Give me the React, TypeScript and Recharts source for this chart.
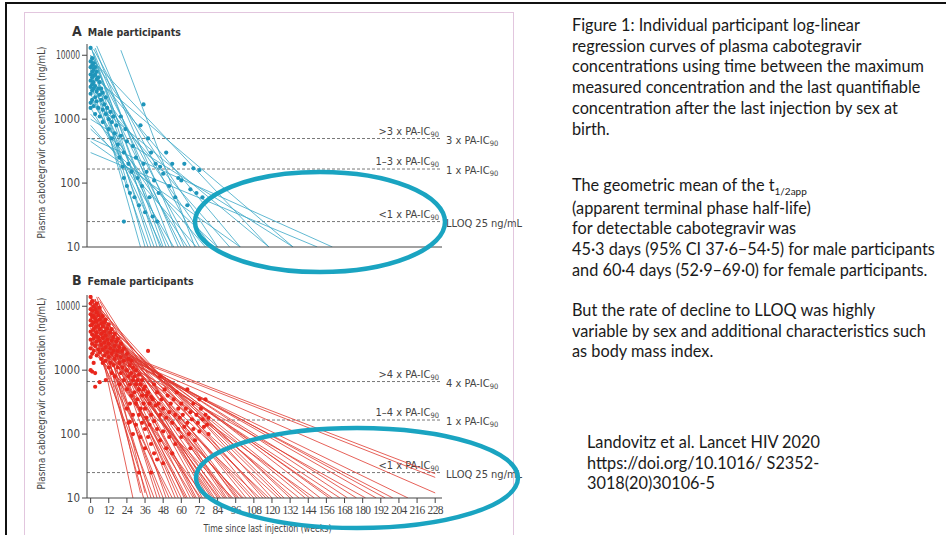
import React from "react";
import { ComposedChart, Line, Scatter, XAxis, YAxis, ReferenceLine } from "recharts";

const X_TICKS = [0, 12, 24, 36, 48, 60, 72, 84, 96, 108, 120, 132, 144, 156, 168, 180, 192, 204, 216, 228];
const Y_TICKS = [10, 100, 1000, 10000];

// regression lines: [start week, start conc, end week, end conc]
const MALE_LINES = [
  [0, 14000, 44, 10], [0, 10000, 36, 10], [0, 8000, 40, 10], [1, 12000, 48, 10],
  [0, 6000, 33, 10], [2, 9000, 50, 10], [0, 5000, 42, 10], [1, 7000, 46, 10],
  [3, 13000, 54, 10], [0, 3500, 38, 10], [0, 4000, 52, 10], [2, 11000, 58, 10],
  [0, 2500, 47, 10], [4, 14000, 62, 10], [0, 1500, 55, 10], [1, 6000, 60, 10],
  [0, 9000, 66, 10], [20, 12000, 69, 10], [0, 2000, 64, 10], [2, 12500, 72, 10],
  [0, 800, 70, 10], [0, 1200, 76, 10], [0, 4500, 80, 10], [0, 10000, 84, 10],
  [0, 700, 84, 10], [0, 3000, 92, 10], [0, 450, 99, 10], [0, 6000, 99, 10],
  [0, 2000, 118, 10], [0, 9000, 118, 10], [0, 1000, 134, 10], [0, 5000, 134, 10],
  [0, 500, 160, 10], [0, 300, 150, 10],
];

const MALE_DOTS = [
  [0, 13000], [0, 8000], [0, 6500], [0, 5000], [0, 4000], [0, 3200], [0, 2500], [0, 1800], [0, 1500],
  [1, 9000], [1, 7000], [1, 5500], [1, 4500], [1, 3500], [1, 2800], [1, 2000],
  [2, 7500], [2, 6000], [2, 4800], [2, 3800], [2, 3000], [2, 1600],
  [3, 6500], [3, 5000], [3, 3300], [3, 2200], [3, 1200], [4, 5500], [4, 4200], [4, 2700], [4, 1900],
  [5, 4500], [5, 3000], [5, 1500], [6, 3800], [6, 2400], [6, 1100], [7, 3000], [7, 2000],
  [8, 2600], [8, 1400], [8, 900], [9, 1700], [10, 2200], [10, 1200], [11, 1500], [12, 1000], [12, 700],
  [13, 1300], [14, 900], [14, 500], [15, 1100], [16, 600], [17, 800], [18, 400], [19, 250], [20, 550],
  [20, 1100], [21, 180], [22, 300], [22, 120], [22, 25], [23, 700], [24, 90], [24, 450], [25, 200],
  [26, 70], [27, 150], [28, 380], [29, 60], [30, 250], [31, 120], [32, 45], [33, 800], [34, 90],
  [35, 1700], [35, 200], [36, 35], [37, 150], [38, 500], [39, 60], [40, 300], [41, 30], [42, 110],
  [43, 200], [44, 25], [45, 70], [46, 180], [48, 140], [50, 300], [52, 90], [54, 200], [56, 60],
  [58, 120], [60, 110], [62, 200], [64, 45], [66, 80], [68, 170], [70, 70], [72, 160], [74, 60], [76, 50],
];

const FEMALE_LINES = [
  [0, 12000, 28, 10], [3, 13000, 33, 12], [5, 12000, 36, 12], [2, 8000, 35, 10], [0, 6000, 38, 10],
  [1, 10000, 40, 10], [3, 13000, 44, 10], [0, 4000, 42, 10], [2, 9000, 46, 10], [0, 7000, 48, 10],
  [4, 14000, 50, 10], [1, 5000, 52, 10], [0, 3000, 54, 10], [3, 11000, 56, 10], [5, 8000, 58, 10],
  [0, 9000, 60, 10], [0, 14000, 62, 10], [2, 6000, 64, 10], [1, 12000, 66, 10], [0, 4500, 68, 10],
  [4, 10000, 70, 10], [0, 8000, 72, 10], [2, 13000, 74, 10], [0, 2500, 76, 10], [6, 12000, 78, 10],
  [1, 7000, 80, 10], [0, 11000, 82, 10], [3, 5000, 84, 10], [0, 9500, 86, 10], [2, 3500, 88, 10],
  [5, 14000, 90, 10], [0, 6500, 92, 10], [1, 2000, 94, 10], [0, 12500, 96, 10], [4, 9000, 98, 10],
  [0, 4000, 100, 10], [0, 5500, 63, 10], [3, 9500, 69, 10], [0, 3000, 73, 10], [2, 11000, 77, 10],
  [0, 7500, 81, 10], [1, 4500, 85, 10], [0, 13500, 89, 10], [3, 6000, 93, 10], [0, 8500, 97, 10],
  [2, 2800, 101, 10], [0, 10000, 103, 10], [2, 6000, 106, 10], [0, 6000, 108, 10], [0, 14000, 110, 10],
  [1, 3000, 112, 10], [2, 11000, 114, 10], [0, 8000, 116, 10], [0, 4500, 118, 10], [3, 11000, 120, 10],
  [0, 5000, 124, 10], [1, 8000, 126, 10], [6, 7000, 128, 10], [0, 9000, 132, 10], [0, 7000, 134, 10],
  [2, 4000, 138, 10], [3, 5000, 142, 10], [0, 6000, 145, 10], [0, 3000, 148, 10], [10, 4000, 152, 10],
  [0, 5000, 158, 10], [2, 3800, 160, 10], [1, 3500, 165, 10], [0, 4500, 170, 10], [4, 3500, 176, 10],
  [0, 2500, 182, 10], [0, 3500, 189, 10], [3, 3000, 195, 10], [0, 2800, 200, 10], [0, 2600, 210, 10],
  [4, 2600, 228, 24], [6, 2400, 228, 21], [8, 2200, 228, 12],
];

const FEMALE_DOTS = [
  [0, 14000], [0, 11000], [0, 9000], [0, 7500], [0, 6000], [0, 5000], [0, 4000], [0, 3000], [0, 2200],
  [0, 1600], [0, 1000], [1, 12000], [1, 8500], [1, 6800], [1, 5200], [1, 3600], [1, 2600], [1, 1800],
  [1, 950], [2, 10000], [2, 7000], [2, 5600], [2, 4300], [2, 3100], [2, 2000], [2, 1300], [3, 9000],
  [3, 6400], [3, 4700], [3, 3400], [3, 2400], [3, 900], [3, 550], [4, 11000], [4, 8000], [4, 5800],
  [4, 3900], [4, 2800], [4, 1700], [5, 7200], [5, 5000], [5, 3300], [5, 2100], [6, 9500], [6, 6200],
  [6, 4400], [6, 2900], [6, 1900], [6, 650], [7, 5400], [7, 3700], [7, 2500], [7, 1500], [8, 7000],
  [8, 4800], [8, 3200], [8, 2100], [8, 1300], [9, 5600], [9, 4000], [9, 2700], [9, 1700], [10, 6200],
  [10, 3500], [10, 2300], [10, 1400], [10, 700], [11, 4500], [11, 3000], [11, 1900], [12, 5200],
  [12, 2600], [12, 1600], [12, 1100], [13, 3900], [13, 2200], [13, 1300], [14, 4400], [14, 2900],
  [14, 1800], [14, 900], [15, 3300], [15, 2000], [15, 1200], [16, 3700], [16, 2400], [16, 1500],
  [16, 800], [17, 2800], [17, 1700], [18, 3100], [18, 2000], [18, 1100], [19, 2300], [19, 1300],
  [19, 600], [20, 2600], [20, 1600], [20, 900], [21, 2000], [21, 1100], [22, 2200], [22, 1400],
  [22, 700], [24, 1800], [24, 1000], [24, 500], [24, 250], [25, 1500], [25, 800], [25, 150],
  [26, 1200], [26, 600], [26, 300], [26, 155], [27, 1400], [27, 900], [27, 400], [28, 1100], [28, 700],
  [28, 200], [28, 100], [29, 800], [29, 450], [30, 1000], [30, 600], [30, 300], [30, 140], [31, 700],
  [31, 350], [32, 850], [32, 500], [32, 200], [32, 25], [33, 600], [33, 250], [33, 90], [34, 700],
  [34, 400], [34, 150], [35, 500], [35, 300], [36, 550], [36, 250], [36, 120], [36, 60], [37, 400],
  [37, 180], [38, 2000], [38, 450], [38, 90], [39, 300], [39, 140], [40, 25], [40, 380], [40, 200],
  [40, 70], [41, 350], [42, 600], [42, 160], [42, 50], [43, 280], [44, 450], [44, 120], [44, 40],
  [45, 300], [46, 800], [46, 200], [46, 80], [47, 350], [48, 250], [48, 110], [48, 35], [49, 500],
  [50, 180], [50, 60], [51, 400], [52, 220], [52, 90], [53, 300], [54, 150], [54, 50], [55, 350],
  [56, 200], [56, 70], [57, 450], [58, 250], [58, 120], [59, 180], [60, 300], [60, 90], [61, 200],
  [62, 130], [63, 250], [64, 500], [64, 150], [65, 100], [66, 220], [66, 60], [67, 170], [68, 300],
  [68, 120], [69, 80], [70, 200], [71, 150], [72, 350], [72, 110], [73, 250], [74, 170], [75, 130],
  [76, 350], [76, 200], [77, 140], [78, 180], [78, 100],
];

const MALE_THRESHOLDS = [498, 166, 25];
const MALE_ABOVE = [">3 x PA-IC", "1–3 x PA-IC", "<1 x PA-IC"];
const MALE_RIGHT = ["3 x PA-IC", "1 x PA-IC", "LLOQ 25 ng/mL"];
const FEMALE_THRESHOLDS = [664, 166, 25];
const FEMALE_ABOVE = [">4 x PA-IC", "1–4 x PA-IC", "<1 x PA-IC"];
const FEMALE_RIGHT = ["4 x PA-IC", "1 x PA-IC", "LLOQ 25 ng/mL"];

const FIG_FONT = "'Liberation Sans Narrow', 'DejaVu Sans Condensed', 'Liberation Sans', sans-serif";
const TEXT_FONT = "Lato, 'Open Sans', sans-serif";

function Sub({ text }: { text: string }) {
  if (!text.endsWith("PA-IC")) return <>{text}</>;
  return (
    <>
      {text}
      <tspan fontSize={7.5} dy={2}>90</tspan>
    </>
  );
}

function RefLabel(props: any) {
  const { viewBox, above, right } = props;
  const x = viewBox.x;
  const y = viewBox.y;
  const w = viewBox.width;
  return (
    <g fontFamily={FIG_FONT} fill="#444" fontSize={11}>
      <text x={x + w - 3} y={y - 4} textAnchor="end">
        <Sub text={above} />
      </text>
      <text x={x + w + 4} y={y + 5}>
        <Sub text={right} />
      </text>
    </g>
  );
}

function YTick(props: any) {
  const { x, y, payload } = props;
  const v = payload.value;
  return (
    <text
      x={x - 1}
      y={y}
      textAnchor="end"
      dominantBaseline="central"
      fontSize={11.5}
      fill="#444"
      fontFamily={FIG_FONT}
      textLength={v === 10000 ? 24 : undefined}
      lengthAdjust="spacingAndGlyphs"
    >
      {String(v)}
    </text>
  );
}

function YLabel(props: any) {
  const { viewBox } = props;
  const cx = viewBox.x + 41;
  const cy = viewBox.y + viewBox.height / 2 - 3;
  return (
    <text
      x={cx}
      y={cy}
      transform={`rotate(-90 ${cx} ${cy})`}
      textAnchor="middle"
      dominantBaseline="central"
      fontSize={11}
      fill="#444"
      fontFamily={FIG_FONT}
      textLength={192}
      lengthAdjust="spacingAndGlyphs"
    >
      Plasma cabotegravir concentration (ng/mL)
    </text>
  );
}

function XLabel(props: any) {
  const { viewBox } = props;
  return (
    <text
      x={viewBox.x + viewBox.width / 2 + 3}
      y={viewBox.y + 34}
      textAnchor="middle"
      fontSize={11}
      fill="#444"
      fontFamily={FIG_FONT}
      textLength={128}
      lengthAdjust="spacingAndGlyphs"
    >
      Time since last injection (weeks)
    </text>
  );
}

function Panel(props: any) {
  const { top, height, xAxisHeight, lines, dots, lineColor, dotColor, thresholds, above, right, showTicks } = props;
  const dotData = dots.map(([x, y]: number[]) => ({ x, y }));
  return (
    <div style={{ position: "absolute", left: 0, top }}>
      <ComposedChart width={560} height={height} margin={{ top: 44, right: 118, bottom: 0, left: 0 }}>
        <XAxis
          type="number"
          dataKey="x"
          domain={[-2.4, 232.5]}
          ticks={X_TICKS}
          interval={0}
          allowDataOverflow
          height={xAxisHeight}
          stroke="#444"
          tickSize={5}
          tickMargin={3}
          tick={
            showTicks
              ? { fontSize: 11.5, fill: "#444", fontFamily: "'Liberation Serif', serif", letterSpacing: -0.7 }
              : false
          }
          label={showTicks ? <XLabel /> : undefined}
        />
        <YAxis
          type="number"
          dataKey="y"
          scale="log"
          domain={[10, 15000]}
          allowDataOverflow
          ticks={Y_TICKS}
          interval={0}
          width={87}
          stroke="#444"
          tickSize={5}
          tickMargin={1}
          tick={<YTick />}
          label={<YLabel />}
        />
        {thresholds.map((t: number, i: number) => (
          <ReferenceLine
            key={"r" + i}
            y={t}
            stroke="#555"
            strokeWidth={0.8}
            strokeDasharray="3 2"
            label={<RefLabel above={above[i]} right={right[i]} />}
          />
        ))}
        {lines.map((l: number[], i: number) => (
          <Line
            key={"l" + i}
            data={[{ x: l[0], y: l[1] }, { x: l[2], y: l[3] }]}
            dataKey="y"
            stroke={lineColor}
            strokeWidth={0.8}
            dot={false}
            activeDot={false}
            isAnimationActive={false}
          />
        ))}
        <Scatter
          data={dotData}
          dataKey="y"
          isAnimationActive={false}
          shape={(p: any) => <circle cx={p.cx} cy={p.cy} r={2.1} fill={dotColor} />}
        />
      </ComposedChart>
    </div>
  );
}

const lineStyle: React.CSSProperties = { whiteSpace: "nowrap" };
const para: React.CSSProperties = {
  position: "absolute",
  fontFamily: TEXT_FONT,
  fontSize: 16.3,
  lineHeight: "20.7px",
  color: "#1a1a1a",
};

export default function App() {
  return (
    <div style={{ position: "absolute", left: 0, top: 0, width: 946, height: 535, background: "#fff", overflow: "hidden" }}>
      <div style={{ position: "absolute", left: 5, top: 2, width: 941, height: 2, background: "#111" }} />
      <div style={{ position: "absolute", left: 5, top: 2, width: 2, height: 533, background: "#111" }} />
      <div
        style={{
          position: "absolute",
          left: 24,
          top: 12,
          width: 488,
          height: 540,
          border: "1px solid #e2c6de",
        }}
      />

      <div style={{ position: "absolute", left: 72, top: 21, fontFamily: FIG_FONT, color: "#333", whiteSpace: "nowrap" }}>
        <span style={{ fontSize: 14, fontWeight: 700 }}>A</span>
        <span style={{ fontSize: 10.5, fontWeight: 700, marginLeft: 6 }}>Male participants</span>
      </div>
      <div style={{ position: "absolute", left: 72, top: 270, fontFamily: FIG_FONT, color: "#333", whiteSpace: "nowrap" }}>
        <span style={{ fontSize: 14, fontWeight: 700 }}>B</span>
        <span style={{ fontSize: 10.5, fontWeight: 700, marginLeft: 6 }}>Female participants</span>
      </div>

      <Panel
        top={0}
        height={260}
        xAxisHeight={13}
        lines={MALE_LINES}
        dots={MALE_DOTS}
        lineColor="#3aa7c6"
        dotColor="#1f95ba"
        thresholds={MALE_THRESHOLDS}
        above={MALE_ABOVE}
        right={MALE_RIGHT}
        showTicks={false}
      />
      <Panel
        top={251}
        height={284}
        xAxisHeight={37}
        lines={FEMALE_LINES}
        dots={FEMALE_DOTS}
        lineColor="#e0392e"
        dotColor="#e8261c"
        thresholds={FEMALE_THRESHOLDS}
        above={FEMALE_ABOVE}
        right={FEMALE_RIGHT}
        showTicks={true}
      />

      <svg width={946} height={535} style={{ position: "absolute", left: 0, top: 0, pointerEvents: "none" }}>
        <ellipse cx={320} cy={222} rx={125} ry={50} fill="none" stroke="#1aa4c1" strokeWidth={4.5} />
        <ellipse cx={357} cy={478} rx={161} ry={50} fill="none" stroke="#1aa4c1" strokeWidth={4.5} />
      </svg>

      <div style={{ ...para, left: 572, top: 15 }}>
        <div style={lineStyle}>Figure 1: Individual participant log-linear</div>
        <div style={lineStyle}>regression curves of plasma cabotegravir</div>
        <div style={lineStyle}>concentrations using time between the maximum</div>
        <div style={lineStyle}>measured concentration and the last quantifiable</div>
        <div style={lineStyle}>concentration after the last injection by sex at</div>
        <div style={lineStyle}>birth.</div>
      </div>
      <div style={{ ...para, left: 572, top: 175 }}>
        <div style={lineStyle}>
          The geometric mean of the t<span style={{ fontSize: 10, position: "relative", top: 4 }}>1/2app</span>
        </div>
        <div style={lineStyle}>(apparent terminal phase half-life)</div>
        <div style={lineStyle}>for detectable cabotegravir was</div>
        <div style={lineStyle}>45·3 days (95% CI 37·6–54·5) for male participants</div>
        <div style={lineStyle}>and 60·4 days (52·9–69·0) for female participants.</div>
      </div>
      <div style={{ ...para, left: 572, top: 300 }}>
        <div style={lineStyle}>But the rate of decline to LLOQ was highly</div>
        <div style={lineStyle}>variable by sex and additional characteristics such</div>
        <div style={lineStyle}>as body mass index.</div>
      </div>
      <div style={{ ...para, left: 587, top: 432 }}>
        <div style={lineStyle}>Landovitz et al. Lancet HIV 2020</div>
        <div style={lineStyle}>https://doi.org/10.1016/ S2352-</div>
        <div style={lineStyle}>3018(20)30106-5</div>
      </div>
    </div>
  );
}
